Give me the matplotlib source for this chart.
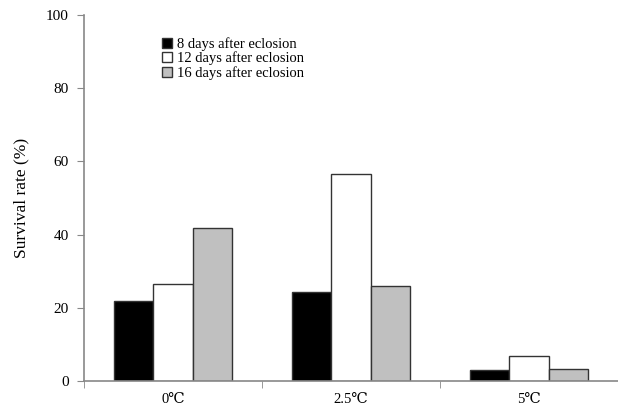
import numpy as np
import matplotlib
matplotlib.use("Agg")
import matplotlib.pyplot as plt

plt.rcParams['font.family'] = ['Liberation Serif', 'DejaVu Serif', 'DejaVu Sans']

# data
temps = ['0℃', '2.5℃', '5℃']
series_names = ['8 days after eclosion', '12 days after eclosion', '16 days after eclosion']
day8 = [21.8, 24.2, 2.9]
day12 = [26.6, 56.4, 6.7]
day16 = [41.9, 25.9, 3.2]
colours = ['black', 'white', '#c0c0c0']

fig = plt.figure(figsize=(6.18, 4.11), dpi=100)
ax = fig.add_axes([0.136, 0.073, 0.864, 0.891])

x = np.arange(len(temps))
w = 0.22
for i, vals in enumerate([day8, day12, day16]):
    ax.bar(x + (i - 1) * w, vals, width=w, color=colours[i],
           edgecolor='#333333', linewidth=1.0, label=series_names[i])

ax.set_xlim(-0.5, 2.5)
ax.set_ylim(0, 100)
ax.set_yticks(range(0, 101, 20))
ax.set_xticks(x)
ax.set_xticklabels(temps, fontsize=10.5)
ax.set_xticks([-0.5, 0.5, 1.5, 2.5], minor=True)
ax.tick_params(axis='x', which='major', length=0, pad=9)
ax.tick_params(axis='x', which='minor', length=5, color='#888888', direction='out')
ax.tick_params(axis='y', labelsize=11, length=5, color='#888888', pad=6)
for s in ['top', 'right']:
    ax.spines[s].set_visible(False)
for s in ['left', 'bottom']:
    ax.spines[s].set_color('#888888')
    ax.spines[s].set_linewidth(1.2)
ax.set_ylabel('Survival rate (%)', fontsize=12.5, labelpad=12)

ax.legend(loc='upper left', bbox_to_anchor=(0.135, 0.955), frameon=False,
          fontsize=10.5, handlelength=0.7, handleheight=0.7, handletextpad=0.3,
          labelspacing=0.05, borderaxespad=0)

fig.savefig('out.png', dpi=100)
